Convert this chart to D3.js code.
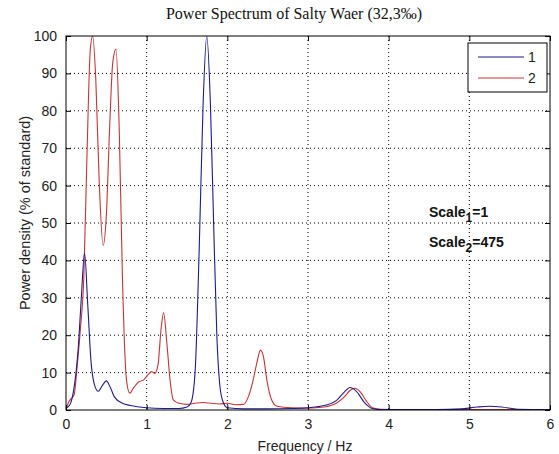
<!DOCTYPE html>
<html>
<head>
<meta charset="utf-8">
<script src="https://d3js.org/d3.v7.min.js"></script>
<style>
  body { margin: 0; background: #fff; }
  .tick text { font-family: "Liberation Sans", Arial, sans-serif; font-size: 14px; fill: #222; }
</style>
</head>
<body>
<div id="chart"></div>
<script>
// spectrum samples
var freqBlue = [0, 0.05, 0.1, 0.15, 0.19, 0.23, 0.27, 0.31, 0.35, 0.4, 0.45, 0.5, 0.55, 0.6, 0.7, 0.8, 1.0, 1.2, 1.4, 1.5, 1.55, 1.6, 1.65, 1.7, 1.745, 1.79, 1.83, 1.87, 1.91, 1.95, 2.0, 2.2, 2.5, 2.8, 3.0, 3.2, 3.35, 3.45, 3.52, 3.6, 3.7, 3.8, 3.9, 4.2, 4.6, 4.9, 5.1, 5.25, 5.4, 5.6, 6.0];
var powerBlue = [0.5, 1.5, 6, 16, 30, 42, 28, 13, 7, 5, 6.5, 7.8, 6, 3.5, 1.8, 1.2, 0.6, 0.4, 0.4, 0.8, 2, 10, 42, 82, 100, 82, 50, 20, 6, 2, 0.6, 0.3, 0.3, 0.4, 0.6, 1.2, 2.5, 4.8, 6, 5, 2, 0.4, 0.1, 0.1, 0.1, 0.3, 0.8, 1, 0.8, 0.2, 0.1];

var freqRed = [0, 0.03, 0.06, 0.1, 0.14, 0.18, 0.22, 0.26, 0.3, 0.33, 0.37, 0.41, 0.46, 0.5, 0.54, 0.58, 0.62, 0.66, 0.7, 0.75, 0.79, 0.84, 0.9, 0.96, 1.02, 1.06, 1.1, 1.14, 1.18, 1.21, 1.25, 1.29, 1.33, 1.4, 1.5, 1.6, 1.7, 1.8, 1.9, 2.0, 2.1, 2.2, 2.26, 2.32, 2.37, 2.41, 2.45, 2.49, 2.55, 2.62, 2.8, 3.0, 3.2, 3.35, 3.45, 3.52, 3.58, 3.65, 3.72, 3.8, 3.9, 4.2, 5.0, 6.0];
var powerRed = [0, 2, 3, 4, 12, 22, 35, 68, 96, 100, 88, 62, 44, 52, 75, 93, 96.5, 75, 35, 8, 4.5, 6, 7.5, 8, 9.5, 10.3, 9.8, 12, 22, 26, 18, 8, 2.7, 1.8, 1.5, 1.8, 2, 1.8, 1.6, 1.8, 1.4, 1.5, 3.5, 8, 13, 16, 14, 8, 2.7, 1, 0.6, 0.5, 0.8, 1.8, 3.5, 5.2, 5.8, 4.8, 2.5, 0.6, 0.2, 0.1, 0.1, 0.1];

var xTicks = [0, 1, 2, 3, 4, 5, 6];
var yTicks = [0, 10, 20, 30, 40, 50, 60, 70, 80, 90, 100];
var seriesNames = ["1", "2"];
var seriesColors = ["#1c1c8c", "#cc3333"];

var svgWidth = 559;
var svgHeight = 454;

var margin = {
  top: 36,
  right: 9,
  bottom: 44,
  left: 66,
};

var width = svgWidth - margin.left - margin.right;
var height = svgHeight - margin.top - margin.bottom;

var svg = d3.select("#chart")
  .append("svg")
  .attr("width", svgWidth)
  .attr("height", svgHeight);

var chartGroup = svg.append("g")
  .attr("transform", `translate(${margin.left}, ${margin.top})`);

var xScale = d3.scaleLinear().domain([0, 6]).range([0, width]);
var yScale = d3.scaleLinear().domain([0, 100]).range([height, 0]);

// dotted grid
chartGroup.append("g")
  .selectAll("line.vg")
  .data(xTicks.slice(1, -1))
  .enter()
  .append("line")
  .attr("x1", (d) => xScale(d))
  .attr("x2", (d) => xScale(d))
  .attr("y1", 0)
  .attr("y2", height)
  .attr("stroke", "#000")
  .attr("stroke-dasharray", "1,3");

chartGroup.append("g")
  .selectAll("line.hg")
  .data(yTicks.slice(1, -1))
  .enter()
  .append("line")
  .attr("x1", 0)
  .attr("x2", width)
  .attr("y1", (d) => yScale(d))
  .attr("y2", (d) => yScale(d))
  .attr("stroke", "#000")
  .attr("stroke-dasharray", "1,3");

// curves
chartGroup.append("clipPath")
  .attr("id", "plotclip")
  .append("rect")
  .attr("width", width)
  .attr("height", height);

var line = d3.line()
  .x((d) => xScale(d[0]))
  .y((d) => yScale(d[1]))
  .curve(d3.curveMonotoneX);

var curves = [d3.zip(freqBlue, powerBlue), d3.zip(freqRed, powerRed)];

// red drawn first so blue sits on top where they overlap
[1, 0].forEach((i) => {
  chartGroup.append("path")
    .datum(curves[i])
    .attr("clip-path", "url(#plotclip)")
    .attr("fill", "none")
    .attr("stroke", seriesColors[i])
    .attr("stroke-width", 1.1)
    .attr("d", line);
});

// axes, ticks inside on all four sides
var bottomAxis = d3.axisBottom(xScale).tickValues(xTicks).tickSize(-5).tickPadding(9).tickFormat(d3.format("d"));
var leftAxis = d3.axisLeft(yScale).tickValues(yTicks).tickSize(-5).tickPadding(9).tickFormat(d3.format("d"));

chartGroup.append("g")
  .attr("transform", `translate(0, ${height})`)
  .call(bottomAxis)
  .call((g) => g.select(".domain").remove());

chartGroup.append("g")
  .call(leftAxis)
  .call((g) => g.select(".domain").remove());

chartGroup.append("g")
  .call(d3.axisTop(xScale).tickValues(xTicks).tickSize(-5).tickFormat(""))
  .call((g) => g.select(".domain").remove());

chartGroup.append("g")
  .attr("transform", `translate(${width}, 0)`)
  .call(d3.axisRight(yScale).tickValues(yTicks).tickSize(-5).tickFormat(""))
  .call((g) => g.select(".domain").remove());

chartGroup.append("rect")
  .attr("width", width)
  .attr("height", height)
  .attr("fill", "none")
  .attr("stroke", "#000");

// title and axis labels
svg.append("text")
  .attr("x", margin.left + width / 2 - 14)
  .attr("y", 19)
  .attr("text-anchor", "middle")
  .attr("font-family", "'Liberation Serif', 'Times New Roman', serif")
  .attr("font-size", "16px")
  .attr("fill", "#111")
  .text("Power Spectrum of Salty Waer (32,3‰)");

svg.append("text")
  .attr("x", margin.left + width / 2 - 3)
  .attr("y", 451)
  .attr("text-anchor", "middle")
  .attr("font-family", "'Liberation Sans', Arial, sans-serif")
  .attr("font-size", "14px")
  .attr("fill", "#222")
  .text("Frequency / Hz");

svg.append("text")
  .attr("transform", `translate(30, ${margin.top + height / 2 - 10}) rotate(-90)`)
  .attr("text-anchor", "middle")
  .attr("font-family", "'Liberation Sans', Arial, sans-serif")
  .attr("font-size", "14.5px")
  .attr("fill", "#222")
  .text("Power density (% of standard)");

// legend
var legendGroup = chartGroup.append("g")
  .attr("transform", `translate(${width - 82}, 7)`);

legendGroup.append("rect")
  .attr("width", 79)
  .attr("height", 49)
  .attr("fill", "#fff")
  .attr("stroke", "#000");

seriesNames.forEach((name, i) => {
  legendGroup.append("line")
    .attr("x1", 10)
    .attr("x2", 56)
    .attr("y1", 14 + i * 21)
    .attr("y2", 14 + i * 21)
    .attr("stroke", seriesColors[i])
    .attr("stroke-width", 1.1);
  legendGroup.append("text")
    .attr("x", 60)
    .attr("y", 19 + i * 21)
    .attr("font-family", "'Liberation Sans', Arial, sans-serif")
    .attr("font-size", "14px")
    .attr("fill", "#222")
    .text(name);
});

// scale annotation
[["1", "=1", 217], ["2", "=475", 247]].forEach((a) => {
  var t = svg.append("text")
    .attr("x", 429)
    .attr("y", a[2])
    .attr("font-family", "'Liberation Sans', Arial, sans-serif")
    .attr("font-size", "14px")
    .attr("font-weight", "bold")
    .attr("fill", "#111");
  t.append("tspan").text("Scale");
  t.append("tspan").attr("dy", 5).attr("font-size", "12px").text(a[0]);
  t.append("tspan").attr("dy", -5).text(a[1]);
});
</script>
</body>
</html>
